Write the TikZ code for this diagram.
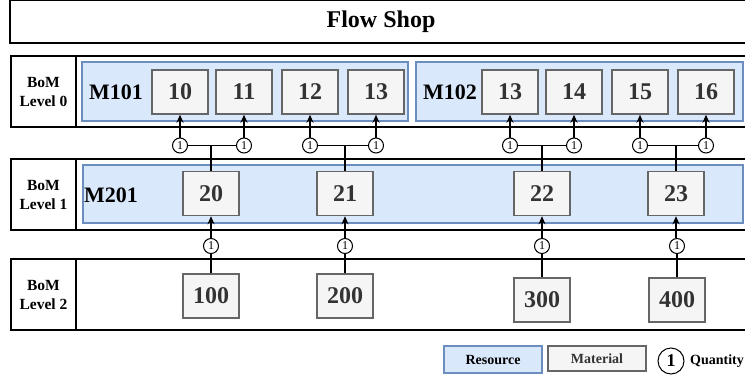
\documentclass[tikz,border=0pt]{standalone}
\usepackage{fontspec}
\setmainfont{Liberation Serif}
\usetikzlibrary{arrows.meta}
\definecolor{resfill}{HTML}{DAE8FC}
\definecolor{resdraw}{HTML}{6C8EBF}
\definecolor{matfill}{HTML}{F5F5F5}
\definecolor{matdraw}{HTML}{666666}
\definecolor{mattext}{HTML}{333333}
\begin{document}
\begin{tikzpicture}[x=1pt,y=-1pt,
 frame/.style={draw=black, line width=1.5pt, inner sep=0pt},
 resbox/.style={draw=resdraw, fill=resfill, line width=1.5pt, inner sep=0pt},
 matbox/.style={draw=matdraw, fill=matfill, line width=1.5pt, text=mattext, minimum width=56pt, minimum height=44pt, inner sep=0pt, font=\fontsize{24}{24}\selectfont\bfseries},
 qty/.style={circle, draw=black, line width=1pt, fill=white, minimum size=15pt, inner sep=0pt, font=\fontsize{12}{12}\selectfont},
 lvl/.style={frame, align=center, font=\fontsize{15.5}{19}\selectfont\bfseries},
 reslbl/.style={font=\fontsize{22}{22}\selectfont\bfseries},
 link/.style={line width=1.5pt},
 arr/.style={link, -{Stealth[length=8pt,width=7pt]}},
 legtxt/.style={font=\fontsize{14}{14}\selectfont\bfseries}
]
\useasboundingbox (0,0) rectangle (745,378);
\clip (0,0) rectangle (745,378);
% title
\node[frame, minimum width=742pt, minimum height=42.5pt, font=\fontsize{24}{24}\selectfont\bfseries] (title) at (381,21.75) {Flow Shop};
% rows
\node[lvl, minimum width=65pt, minimum height=71pt] (lbl0) at (43.5,91.5) {BoM\\Level 0};
\node[frame, minimum width=676pt, minimum height=71pt] (row0) at (414,91.5) {};
\node[lvl, minimum width=65pt, minimum height=71pt] (lbl1) at (43.5,194.5) {BoM\\Level 1};
\node[frame, minimum width=676pt, minimum height=71pt] (row1) at (414,194.5) {};
\node[lvl, minimum width=65pt, minimum height=71pt] (lbl2) at (43.5,294.5) {BoM\\Level 2};
\node[frame, minimum width=676pt, minimum height=71pt] (row2) at (414,294.5) {};
% resources
\node[resbox, minimum width=326pt, minimum height=59pt] (r101) at (245,91.5) {};
\node[resbox, minimum width=327pt, minimum height=59pt] (r102) at (579.5,91.5) {};
\node[resbox, minimum width=660pt, minimum height=58pt] (r201) at (413,194) {};
\node[reslbl] (l101) at (116,92) {M101};
\node[reslbl] (l102) at (450,92) {M102};
\node[reslbl] (l201) at (111,195) {M201};
% materials level 0
\node[matbox] (m10) at (180,92) {10};
\node[matbox] (m11) at (244,92) {11};
\node[matbox] (m12) at (310,92) {12};
\node[matbox] (m13) at (376,92) {13};
\node[matbox] (m13b) at (510,92) {13};
\node[matbox] (m14) at (574,92) {14};
\node[matbox] (m15) at (640,92) {15};
\node[matbox] (m16) at (706,92) {16};
% materials level 1
\node[matbox] (m20) at (211,193.5) {20};
\node[matbox] (m21) at (345,193.5) {21};
\node[matbox] (m22) at (542,193.5) {22};
\node[matbox] (m23) at (676,193.5) {23};
% materials level 2
\node[matbox] (m100) at (211,296) {100};
\node[matbox] (m200) at (345,296) {200};
\node[matbox] (m300) at (542,300) {300};
\node[matbox] (m400) at (677,300) {400};
% quantities level 0
\node[qty] (q10) at (180,145.5) {1};
\node[qty] (q11) at (244,145.5) {1};
\node[qty] (q12) at (310,145.5) {1};
\node[qty] (q13) at (376,145.5) {1};
\node[qty] (q13b) at (510,145.5) {1};
\node[qty] (q14) at (574,145.5) {1};
\node[qty] (q15) at (640,145.5) {1};
\node[qty] (q16) at (706,145.5) {1};
% quantities level 1
\node[qty] (q20) at (211,246) {1};
\node[qty] (q21) at (345,246) {1};
\node[qty] (q22) at (542,246) {1};
\node[qty] (q23) at (677,246) {1};
% connectors level 0
\foreach \q/\m in {q10/m10,q11/m11,q12/m12,q13/m13,q13b/m13b,q14/m14,q15/m15,q16/m16}
  \draw[arr] (\q) -- (\m);
\draw[link] (q10) -- (q11);
\draw[link] (q12) -- (q13);
\draw[link] (q13b) -- (q14);
\draw[link] (q15) -- (q16);
\draw[link] (q10.east -| m20.north) -- (m20.north);
\draw[link] (q12.east -| m21.north) -- (m21.north);
\draw[link] (q13b.east -| m22.north) -- (m22.north);
\draw[link] (q15.east -| m23.north) -- (m23.north);
% connectors level 1
\draw[link] (m100) -- (q20);
\draw[link] (m200) -- (q21);
\draw[link] (m300) -- (q22);
\draw[link] (m400) -- (q23);
\draw[arr] (q20) -- (m20);
\draw[arr] (q21) -- (m21);
\draw[arr] (q22) -- (m22);
\draw[arr] ([xshift=-1pt]q23.north) -- (m23);
% legend
\node[resbox, minimum width=98pt, minimum height=27pt, legtxt] (legres) at (493,359.5) {Resource};
\node[matbox, minimum width=98pt, minimum height=25pt, legtxt] (legmat) at (597,358.5) {Material};
\node[qty, minimum size=26pt, font=\fontsize{18}{18}\selectfont\bfseries] (legq) at (671,361) {1};
\node[legtxt, anchor=west, inner sep=0pt] (legqt) at (690,361) {Quantity};
\end{tikzpicture}
\end{document}
